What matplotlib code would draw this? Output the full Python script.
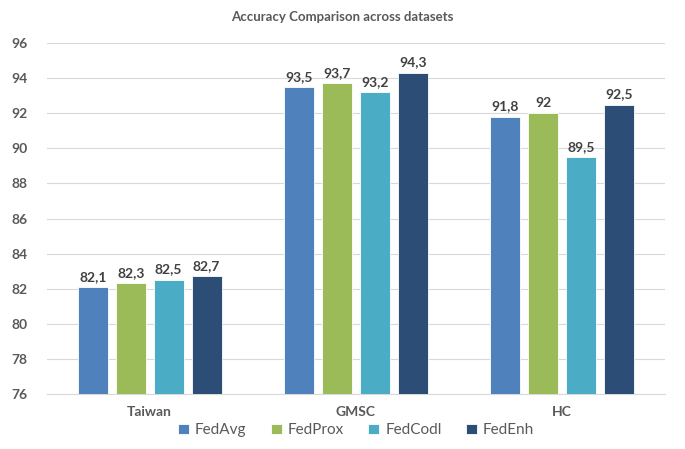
import numpy as np
import matplotlib.pyplot as plt

datasets = ["Taiwan", "GMSC", "HC"]
methods = ["FedAvg", "FedProx", "FedCodl", "FedEnh"]
fedavg = [82.1, 93.5, 91.8]
fedprox = [82.3, 93.7, 92.0]
fedcodl = [82.5, 93.2, 89.5]
fedenh = [82.7, 94.3, 92.5]
colors = ["#4F81BD", "#9BBB59", "#4BACC6", "#2C4D75"]

plt.rcParams['font.family'] = ['Lato', 'DejaVu Sans']
TXT = "#595959"

fig = plt.figure(figsize=(6.85, 4.49), dpi=100)
ax = fig.add_axes([0.068, 0.1225, 0.903, 0.7815])

x = np.arange(len(datasets))
width = 0.145
step = 0.184
series = [fedavg, fedprox, fedcodl, fedenh]
for i, (name, vals) in enumerate(zip(methods, series)):
    pos = x + (i - 1.5) * step
    bars = ax.bar(pos, np.array(vals) - 76, width, bottom=76, color=colors[i],
                  edgecolor="white", linewidth=0.6, label=name, zorder=3)
    for b, v in zip(bars, vals):
        lbl = f"{v:g}".replace(".", ",")
        ax.text(b.get_x() + b.get_width() / 2, v + 0.25, lbl, ha="center", va="bottom",
                fontsize=10, fontweight="bold", color="#404040")

ax.set_xlim(-0.5, 2.5)
ax.set_ylim(76, 96)
ax.set_yticks(np.arange(76, 97, 2))
ax.set_xticks(x)
ax.set_xticklabels(datasets, fontsize=10, fontweight="bold", color=TXT)
for t in ax.get_yticklabels():
    t.set_fontweight("bold")
    t.set_color(TXT)
    t.set_fontsize(10)
ax.tick_params(axis="x", length=0, pad=9)
ax.tick_params(axis="y", length=0, pad=14)
ax.grid(axis="y", color="#D9D9D9", linewidth=0.8, zorder=0)
for s in ["top", "right", "left"]:
    ax.spines[s].set_visible(False)
ax.spines["bottom"].set_color("#D9D9D9")

fig.suptitle("Accuracy Comparison across datasets", y=0.975, fontsize=9.5,
             fontweight="bold", color=TXT)
fig.legend(loc="lower center", bbox_to_anchor=(0.52, -0.005), ncol=4, frameon=False,
           fontsize=11, handlelength=0.7, handleheight=0.7, handletextpad=0.4,
           columnspacing=1.6, labelcolor=TXT)

fig.savefig("out.png", dpi=100)
